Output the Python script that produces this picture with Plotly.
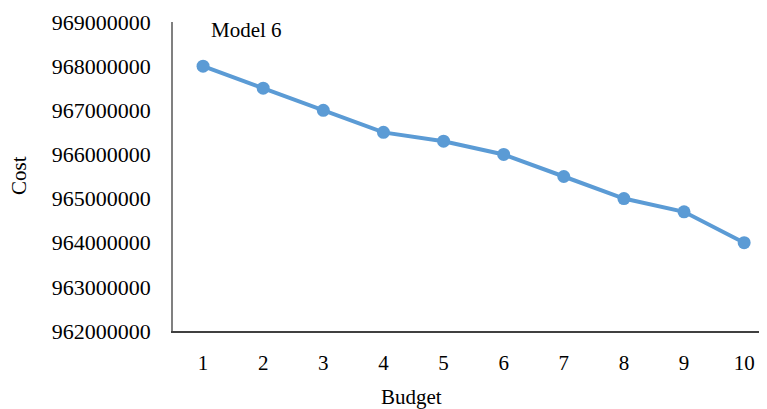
import plotly.graph_objects as go

budget = [1, 2, 3, 4, 5, 6, 7, 8, 9, 10]
cost = [968000000, 967500000, 967000000, 966500000, 966300000,
        966000000, 965500000, 965000000, 964700000, 964000000]
y_ticks = [962000000, 963000000, 964000000, 965000000, 966000000,
           967000000, 968000000, 969000000]

fig = go.Figure()
fig.add_trace(go.Scatter(
    x=budget, y=cost, mode="lines+markers",
    line=dict(color="#5B9BD5", width=4),
    marker=dict(color="#5B9BD5", size=13),
    showlegend=False,
))

font_family = "Liberation Serif, Times New Roman, serif"
# page has an 8px body margin; figure origin sits at (8, 8)
W, H = 759, 401
L, T, B, R = 165, 14, 78, 0
pw, ph = W - L - R, H - T - B

fig.update_layout(
    width=W, height=H,
    margin=dict(l=L, r=R, t=T, b=B, autoexpand=False),
    paper_bgcolor="white", plot_bgcolor="white",
    font=dict(family=font_family, color="#000000", size=20),
    annotations=[
        dict(text="Model 6", x=(209 - 173) / pw, y=(331 - 30) / ph, xref="paper", yref="paper",
             xanchor="left", yanchor="middle", showarrow=False,
             font=dict(size=21, family=font_family)),
        dict(text="Budget", x=(411 - 173) / pw, y=(331 - 397) / ph, xref="paper", yref="paper",
             xanchor="center", yanchor="middle", showarrow=False,
             font=dict(size=21, family=font_family)),
        dict(text="Cost", x=(19 - 173) / pw, y=(331 - 176) / ph, xref="paper", yref="paper",
             xanchor="center", yanchor="middle", showarrow=False, textangle=-90,
             font=dict(size=21, family=font_family)),
    ],
)
fig.update_xaxes(
    range=[0.5, 10.38], tickvals=budget, ticktext=[str(b) for b in budget],
    showgrid=False, zeroline=False, showline=True, linecolor="#404040", linewidth=1.5,
    ticks="", ticklabelstandoff=12, tickfont=dict(size=21), automargin=False,
)
fig.update_yaxes(
    range=[962000000, 969000000], tickvals=y_ticks,
    ticktext=[str(v) for v in y_ticks],
    showgrid=False, zeroline=False, showline=True, linecolor="#808080", linewidth=1.5,
    ticks="", ticklabelstandoff=16, tickfont=dict(size=22), automargin=False,
)
fig.write_html("out.html")
